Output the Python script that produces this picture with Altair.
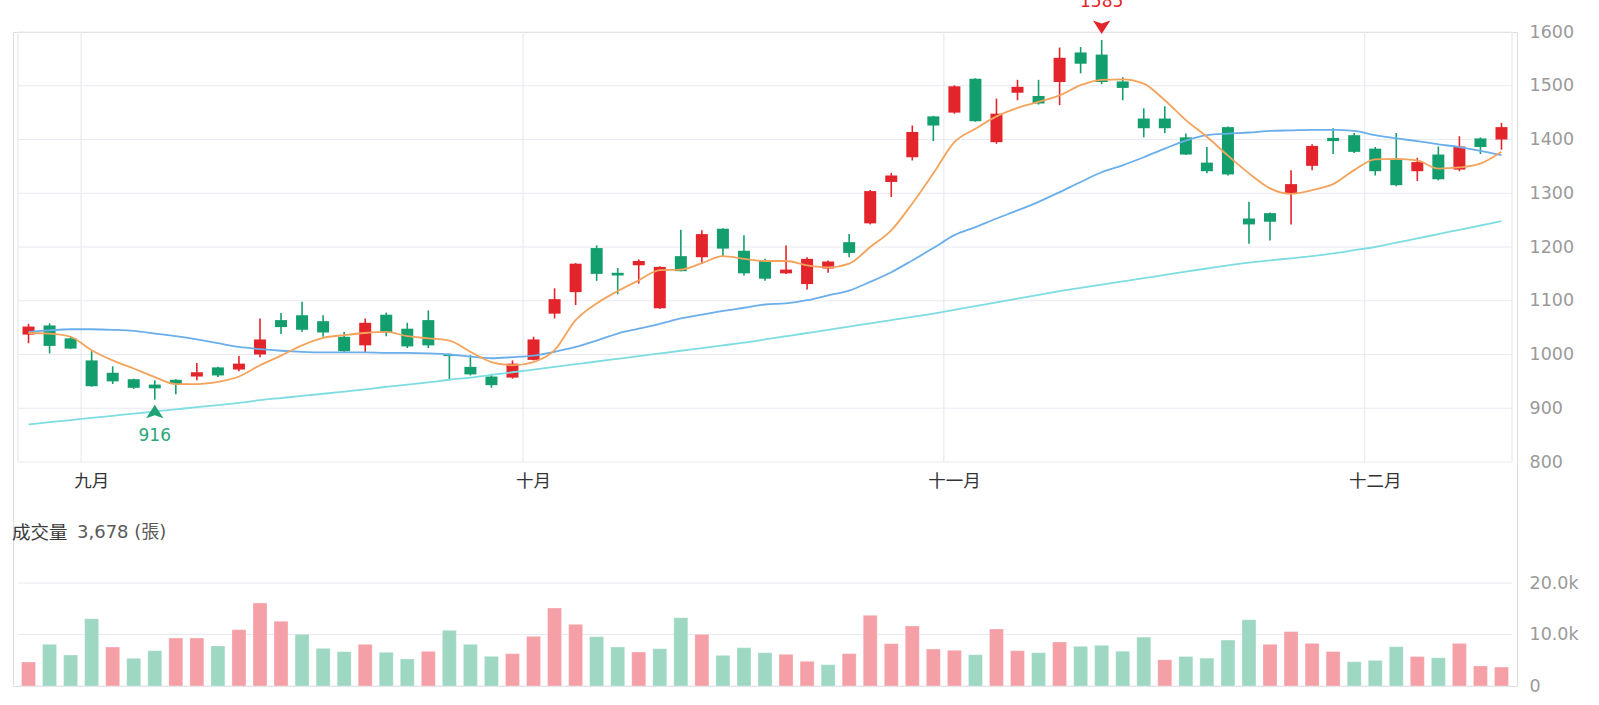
import altair as alt
import pandas as pd

# ---------------- data ----------------
opens = [1037, 1054, 1030, 989, 966, 954, 944, 953, 959, 976, 972, 1000, 1064, 1073, 1062, 1033, 1017, 1074, 1048, 1064,
         999, 977, 959, 957, 990, 1076, 1116, 1198, 1152, 1166, 1086, 1183, 1181, 1234, 1193, 1175, 1151, 1131, 1160, 1209,
         1244, 1321, 1367, 1443, 1450, 1513, 1395, 1487, 1481, 1507, 1562, 1558, 1508, 1439, 1439, 1404, 1357, 1423, 1253, 1263,
         1300, 1351, 1403, 1408, 1383, 1363, 1341, 1372, 1344, 1402, 1400]
highs = [1057, 1058, 1034, 1006, 978, 955, 952, 954, 984, 977, 997, 1067, 1077, 1098, 1073, 1042, 1067, 1078, 1059, 1082,
         1002, 999, 964, 989, 1033, 1123, 1170, 1203, 1161, 1177, 1164, 1232, 1231, 1235, 1222, 1178, 1203, 1181, 1175, 1224,
         1306, 1338, 1426, 1444, 1501, 1514, 1476, 1511, 1511, 1571, 1572, 1585, 1516, 1458, 1462, 1411, 1386, 1424, 1284, 1264,
         1343, 1391, 1421, 1412, 1386, 1412, 1366, 1387, 1406, 1404, 1431]
lows = [1021, 1002, 1010, 940, 945, 936, 916, 926, 952, 958, 969, 995, 1038, 1042, 1033, 1003, 1003, 1034, 1012, 1012,
        953, 961, 938, 955, 989, 1067, 1092, 1137, 1112, 1132, 1085, 1155, 1169, 1183, 1147, 1137, 1150, 1121, 1152, 1181,
        1242, 1293, 1361, 1397, 1448, 1433, 1392, 1473, 1465, 1464, 1523, 1503, 1473, 1404, 1412, 1371, 1337, 1333, 1206, 1212,
        1242, 1343, 1373, 1375, 1333, 1313, 1323, 1324, 1341, 1373, 1381]
closes = [1052, 1016, 1011, 941, 950, 938, 937, 945, 967, 961, 983, 1028, 1051, 1046, 1041, 1006, 1059, 1041, 1015, 1017,
          997, 963, 943, 983, 1028, 1103, 1169, 1150, 1147, 1174, 1163, 1155, 1224, 1197, 1151, 1141, 1158, 1178, 1173, 1189,
          1304, 1333, 1414, 1426, 1499, 1434, 1448, 1498, 1467, 1552, 1541, 1507, 1496, 1421, 1421, 1372, 1341, 1335, 1242, 1247,
          1317, 1388, 1397, 1377, 1341, 1315, 1358, 1326, 1387, 1386, 1423]

ma5 = [1040, 1039, 1033, 1008, 989, 974, 958, 945, 945, 949, 959, 980, 998, 1017, 1031, 1036, 1040, 1042, 1034, 1030,
       1026, 1005, 986, 980, 986, 1008, 1064, 1095, 1118, 1138, 1157, 1158, 1170, 1183, 1178, 1174, 1174, 1166, 1162, 1169,
       1200, 1231, 1281, 1337, 1395, 1420, 1443, 1459, 1470, 1482, 1501, 1511, 1512, 1504, 1473, 1436, 1405, 1370, 1337, 1309,
       1299, 1306, 1317, 1343, 1363, 1364, 1361, 1346, 1348, 1355, 1377]
ma20 = [1042, 1045, 1047, 1047, 1046, 1044, 1039, 1034, 1028, 1021, 1014, 1010, 1007, 1005, 1004, 1004, 1004, 1003, 1003, 1002,
        1000, 996, 993, 995, 998, 1005, 1014, 1026, 1039, 1048, 1057, 1067, 1074, 1081, 1087, 1093, 1095, 1101, 1110, 1119,
        1135, 1153, 1175, 1198, 1222, 1237, 1253, 1268, 1284, 1302, 1321, 1339, 1352, 1367, 1383, 1398, 1408, 1411, 1413, 1416,
        1417, 1418, 1418, 1416, 1408, 1402, 1397, 1391, 1386, 1379, 1371]
ma60 = [870, 874, 878, 882, 886, 890, 894, 898, 902, 906, 910, 915, 919, 923, 927, 931, 935, 940, 944, 948,
        953, 957, 962, 967, 972, 977, 982, 987, 992, 997, 1002, 1007, 1012, 1017, 1022, 1028, 1034, 1040, 1046, 1052,
        1058, 1064, 1070, 1076, 1083, 1090, 1097, 1104, 1111, 1118, 1124, 1130, 1136, 1142, 1148, 1154, 1160, 1166, 1171, 1175,
        1179, 1183, 1188, 1194, 1200, 1208, 1216, 1224, 1232, 1240, 1248]

volume_k = [4.66, 8.09, 6.02, 13.07, 7.57, 5.37, 6.86, 9.32, 9.32, 7.77, 10.94, 16.1, 12.56, 10.03, 7.31, 6.67, 8.09, 6.54, 5.24, 6.73,
            10.81, 8.09, 5.76, 6.28, 9.64, 15.15, 11.97, 9.58, 7.57, 6.6, 7.25, 13.27, 10.03, 5.95, 7.44, 6.47, 6.15, 4.79, 4.14, 6.28,
            13.72, 8.22, 11.65, 7.18, 6.93, 6.08, 11.07, 6.86, 6.47, 8.54, 7.7, 7.9, 6.75, 9.49, 5.1, 5.73, 5.41, 8.92, 12.87, 8.09,
            10.57, 8.28, 6.69, 4.71, 4.97, 7.64, 5.73, 5.48, 8.28, 3.89, 3.678]
volume_dir = ["up", "down", "down", "down", "up", "down", "down", "up", "up", "down", "up", "up", "up", "down", "down", "down", "up", "down", "down", "up",
              "down", "down", "down", "up", "up", "up", "up", "down", "down", "up", "down", "down", "up", "down", "down", "down", "up", "up", "down", "up",
              "up", "up", "up", "up", "up", "down", "up", "up", "down", "up", "down", "down", "down", "down", "up", "down", "down", "down", "down", "up",
              "up", "up", "up", "down", "down", "down", "up", "down", "up", "up", "up"]

month_labels = ["九月", "十月", "十一月", "十二月"]
month_first_idx = [3, 24, 44, 64]
month_bounds = [2.5, 23.5, 43.5, 63.5]
frame_edges = [-0.5, 70.5]
price_ticks = [800, 900, 1000, 1100, 1200, 1300, 1400, 1500, 1600]
volume_ticks = [0, 10000, 20000]

marks_idx = [51, 6]
marks_val = [1585, 916]

# ---------------- styling ----------------
FONT = "Noto Sans CJK TC"
NUMFONT = "DejaVu Sans, Noto Sans CJK TC"
RED = "#E3242B"
GREEN = "#139E6D"
LRED = "#F4A0A6"
LGREEN = "#9ED8C3"
GRID = "#E8EAF1"
C_MA5 = "#F4A35C"
C_MA20 = "#6AAEEA"
C_MA60 = "#7EDDE0"

n = len(closes)
idx = list(range(n))
candles = pd.DataFrame({"i": idx, "open": opens, "high": highs, "low": lows, "close": closes})
candles["dir"] = ["up" if c >= o else "down" for o, c in zip(opens, closes)]
mas = pd.DataFrame({"i": idx, "ma5": ma5, "ma20": ma20, "ma60": ma60})
vols = pd.DataFrame({"i": idx, "vol": [v * 1000 for v in volume_k], "vdir": volume_dir})

xs = alt.Scale(domain=[frame_edges[0], frame_edges[1]], nice=False, zero=False)

ps = alt.Scale(domain=[800, 1600], range=[430, 0], nice=False, zero=False)
paxis = alt.Axis(orient="right", values=price_ticks, format="d", grid=False,
                 ticks=False, domain=False,
                 labelColor="#9A9A9A", labelFontSize=17.5, labelPadding=12, title=None,
                 labelFont=NUMFONT)

vs = alt.Scale(domain=[0, 20000], range=[654, 551], nice=False, zero=True)
vaxis = alt.Axis(orient="right", values=volume_ticks, grid=False, ticks=False, domain=False,
                 labelColor="#9A9A9A", labelFontSize=17.5, labelPadding=12, title=None,
                 labelFont=NUMFONT,
                 labelExpr="datum.value == 0 ? '0' : format(datum.value / 1000, '.1f') + 'k'")

X = alt.X("i:Q", scale=xs, axis=None)
cscale = alt.Scale(domain=["up", "down"], range=[RED, GREEN])

# month grid lines and left/right frame of the price panel
vgrid_df = pd.DataFrame({"b": month_bounds + frame_edges, "lo": price_ticks[0], "hi": price_ticks[-1]})
vgrid = alt.Chart(vgrid_df).mark_rule(color=GRID, strokeWidth=1.2).encode(
    x=alt.X("b:Q", scale=xs, axis=None),
    y=alt.Y("lo:Q", scale=ps, axis=paxis), y2="hi:Q")
# horizontal price grid lines
hgrid_df = pd.DataFrame({"v": price_ticks, "x0": frame_edges[0], "x1": frame_edges[1]})
hgrid = alt.Chart(hgrid_df).mark_rule(color=GRID, strokeWidth=1.2).encode(
    x=alt.X("x0:Q", scale=xs, axis=None), x2="x1:Q",
    y=alt.Y("v:Q", scale=ps, axis=paxis))

# month labels under the price panel
mlab_df = pd.DataFrame({"i": month_first_idx, "t": month_labels, "v": price_ticks[0]})
mlab = alt.Chart(mlab_df).mark_text(baseline="top", dy=11, fontSize=17.5, color="#333333", font=FONT).encode(
    x=X, y=alt.Y("v:Q", scale=ps, axis=paxis), text="t:N")

wick = alt.Chart(candles).mark_rule(strokeWidth=1.6).encode(
    x=X, y=alt.Y("low:Q", scale=ps, axis=paxis), y2="high:Q",
    color=alt.Color("dir:N", scale=cscale, legend=None))
body = alt.Chart(candles).mark_bar(size=12).encode(
    x=X, y=alt.Y("open:Q", scale=ps, axis=paxis), y2="close:Q",
    color=alt.Color("dir:N", scale=cscale, legend=None))

def ma_line(col, colr):
    return alt.Chart(mas).mark_line(color=colr, strokeWidth=1.8, interpolate="monotone").encode(
        x=X, y=alt.Y(f"{col}:Q", scale=ps, axis=paxis))

ann = pd.DataFrame({"i": marks_idx, "v": marks_val, "t": [str(v) for v in marks_val]})
hi_ann = ann.iloc[[0]]
lo_ann = ann.iloc[[1]]
DOWN_ARROW = "M-1,-0.75 L0,-0.42 L1,-0.75 L0,0.8 Z"
UP_ARROW = "M-1,0.75 L0,0.42 L1,0.75 L0,-0.8 Z"
hi_mark = alt.Chart(hi_ann).mark_point(shape=DOWN_ARROW, filled=True, size=300, color=RED, opacity=1,
                                       yOffset=-13).encode(x=X, y=alt.Y("v:Q", scale=ps, axis=paxis))
lo_mark = alt.Chart(lo_ann).mark_point(shape=UP_ARROW, filled=True, size=300, color="#1FA274", opacity=1,
                                       yOffset=12).encode(x=X, y=alt.Y("v:Q", scale=ps, axis=paxis))
hi_text = alt.Chart(hi_ann).mark_text(dy=-38, fontSize=17, color=RED, font=NUMFONT).encode(
    x=X, y=alt.Y("v:Q", scale=ps, axis=paxis), text="t:N")
lo_text = alt.Chart(lo_ann).mark_text(dy=36, fontSize=17, color="#2BA67B", font=NUMFONT).encode(
    x=X, y=alt.Y("v:Q", scale=ps, axis=paxis), text="t:N")

price = alt.layer(hgrid, vgrid, mlab, wick, body, ma_line("ma60", C_MA60), ma_line("ma20", C_MA20),
                  ma_line("ma5", C_MA5), hi_mark, lo_mark, hi_text, lo_text)

# horizontal volume grid lines
vol_grid_df = pd.DataFrame({"v": volume_ticks, "x0": frame_edges[0], "x1": frame_edges[1]})
vol_grid = alt.Chart(vol_grid_df).mark_rule(color=GRID, strokeWidth=1.2).encode(
    x=alt.X("x0:Q", scale=xs, axis=None), x2="x1:Q",
    y=alt.Y("v:Q", scale=vs, axis=vaxis))

vbars = alt.Chart(vols).mark_bar(size=14, stroke="#FFFFFF", strokeOpacity=0.5, strokeWidth=0.6).encode(
    x=X, y=alt.Y("vol:Q", scale=vs, axis=vaxis),
    color=alt.Color("vdir:N", scale=alt.Scale(domain=["up", "down"], range=[LRED, LGREEN]), legend=None))

last_vol = f"{volume_k[-1] * 1000:,.0f} (張)"
title_df = pd.DataFrame({"a": ["成交量"], "b": [last_vol]})
t1 = alt.Chart(title_df).mark_text(align="left", baseline="middle", fontSize=18.5, color="#3A3A3A", font=FONT).encode(
    x=alt.value(-1), y=alt.value(501), text="a:N")
t2 = alt.Chart(title_df).mark_text(align="left", baseline="middle", fontSize=18, color="#5A5A5A", font=NUMFONT).encode(
    x=alt.value(64), y=alt.value(501), text="b:N")

volume = alt.layer(vol_grid, vbars, t1, t2)

chart = alt.layer(price, volume).resolve_scale(y="independent", color="independent").properties(
    width=1504, height=654,
    autosize=alt.AutoSizeParams(type="none"),
    padding={"left": 13, "top": 32, "right": 82, "bottom": 19},
    background="#FFFFFF",
).configure_view(strokeWidth=0).configure_axis(domain=False, ticks=False).configure(font=FONT)

chart.save("out.html", embed_options={"renderer": "svg", "actions": False})
